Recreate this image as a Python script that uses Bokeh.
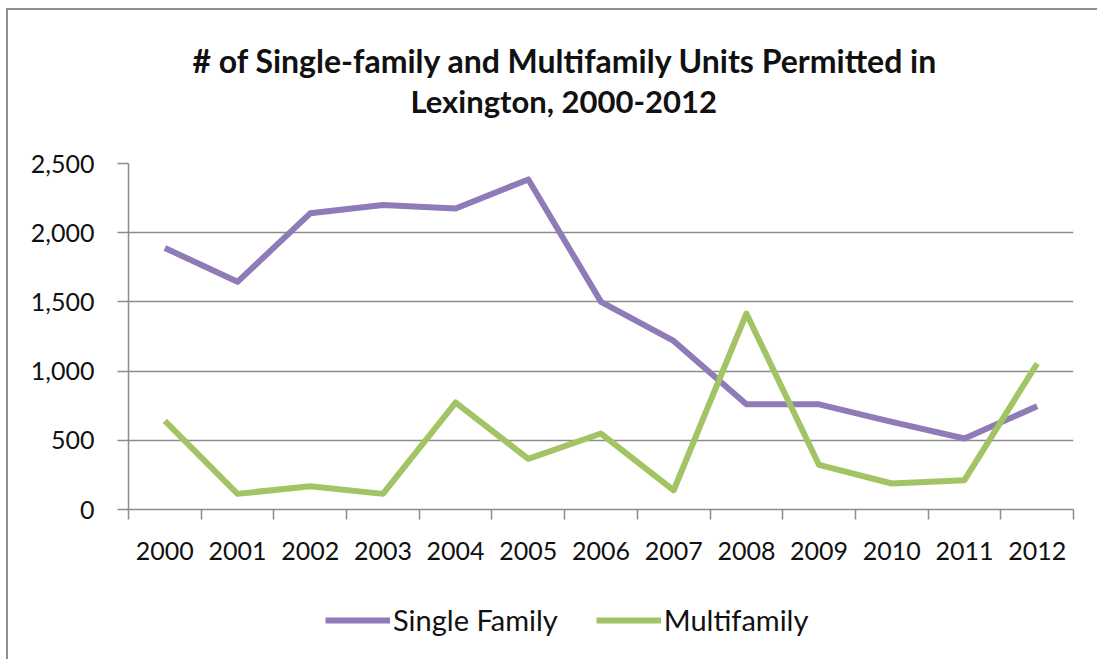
from bokeh.plotting import figure
from bokeh.layouts import column
from bokeh.models import (FixedTicker, NumeralTickFormatter, Range1d, Legend, LegendItem,
                          Title, ColumnDataSource)
from bokeh.embed import file_html
from bokeh.resources import INLINE

years = [2000, 2001, 2002, 2003, 2004, 2005, 2006, 2007, 2008, 2009, 2010, 2011, 2012]
single_family = [1890, 1645, 2140, 2200, 2175, 2385, 1500, 1218, 760, 760, 633, 513, 746]
multifamily = [640, 113, 168, 113, 773, 366, 549, 139, 1416, 322, 188, 212, 1055]
y_ticks = [0, 500, 1000, 1500, 2000, 2500]
title_lines = ["# of Single-family and Multifamily Units Permitted in", "Lexington, 2000-2012"]
series_names = ["Single Family", "Multifamily"]

PURPLE = "#8f7bb7"
GREEN = "#a2c465"
GRID = "#8c8c8c"
FONT = "Lato"

src = ColumnDataSource(dict(year=years, sf=single_family, mf=multifamily))

p = figure(width=1089, height=561, output_backend="svg", toolbar_location=None,
           x_range=Range1d(years[0] - 0.5, years[-1] + 0.5), y_range=Range1d(0, 2500),
           min_border_left=120, min_border_right=24, min_border_top=153, min_border_bottom=62)
p.outline_line_color = None
p.background_fill_color = "white"
p.border_fill_color = "white"

# titles: stacked outward from the frame (spacer, line 2, line 1)
t0 = Title(text=" ", standoff=41, text_font_size="1px")
t2 = Title(text=title_lines[1], align="left", offset=282, standoff=0, text_font=FONT,
           text_font_size="31px", text_font_style="bold", text_color="#111111")
t1 = Title(text=title_lines[0], align="left", offset=64, standoff=0, text_font=FONT,
           text_font_size="32px", text_font_style="bold", text_color="#111111")
p.add_layout(t0, "above")
p.add_layout(t2, "above")
p.add_layout(t1, "above")

p.line("year", "sf", source=src, line_color=PURPLE, line_width=6, line_join="round")
p.line("year", "mf", source=src, line_color=GREEN, line_width=6, line_join="round")

# x axis: labels at category centres, tick marks at category boundaries
p.xaxis.ticker = FixedTicker(ticks=years, minor_ticks=[y - 0.5 for y in years] + [years[-1] + 0.5])
p.xaxis.major_tick_out = 0
p.xaxis.major_tick_in = 0
p.xaxis.minor_tick_out = 10
p.xaxis.minor_tick_in = 0
p.xaxis.minor_tick_line_color = GRID
p.xaxis.minor_tick_line_width = 1.5
p.xaxis.axis_line_color = GRID
p.xaxis.axis_line_width = 1.5
p.xaxis.major_label_standoff = 22
p.xaxis.major_label_text_font = FONT
p.xaxis.major_label_text_font_size = "25px"
p.xaxis.major_label_text_color = "#111111"
p.xgrid.grid_line_color = None

p.yaxis.ticker = FixedTicker(ticks=y_ticks)
p.yaxis.formatter = NumeralTickFormatter(format="0,0")
p.yaxis.minor_tick_line_color = None
p.yaxis.major_tick_out = 11
p.yaxis.major_tick_in = 0
p.yaxis.major_tick_line_color = GRID
p.yaxis.major_tick_line_width = 1.5
p.yaxis.axis_line_color = GRID
p.yaxis.axis_line_width = 1.5
p.yaxis.major_label_standoff = 23
p.yaxis.major_label_text_font = FONT
p.yaxis.major_label_text_font_size = "25px"
p.yaxis.major_label_text_color = "#111111"
p.ygrid.grid_line_color = GRID
p.ygrid.grid_line_width = 1.5

# legend strip below the chart (key renderers carry no visible data)
nan = float("nan")
lg = figure(width=1089, height=88, output_backend="svg", toolbar_location=None,
            x_range=Range1d(0, 1), y_range=Range1d(0, 1),
            x_axis_location=None, y_axis_location=None,
            min_border_left=0, min_border_right=0, min_border_top=0, min_border_bottom=0)
lg.outline_line_color = None
lg.grid.visible = False
lg.border_fill_color = "white"
k1 = lg.line(x=[nan], y=[nan], line_color=PURPLE, line_width=6)
k2 = lg.line(x=[nan], y=[nan], line_color=GREEN, line_width=6)
legend = Legend(items=[LegendItem(label=series_names[0], renderers=[k1]),
                       LegendItem(label=series_names[1], renderers=[k2])],
                orientation="horizontal", location=(197, 22),
                glyph_width=65, glyph_height=30, label_standoff=3, spacing=38,
                label_text_font=FONT, label_text_font_size="29px", label_text_color="#111111",
                border_line_color=None, background_fill_alpha=0, padding=0, margin=0)
lg.add_layout(legend, "center")

page = column(p, lg, spacing=0)
page.styles = {"margin-left": "6px", "margin-top": "8px",
               "border-top": "2px solid #8f8f8f", "border-left": "2px solid #8f8f8f"}

open("out.html", "w").write(file_html(page, INLINE))
